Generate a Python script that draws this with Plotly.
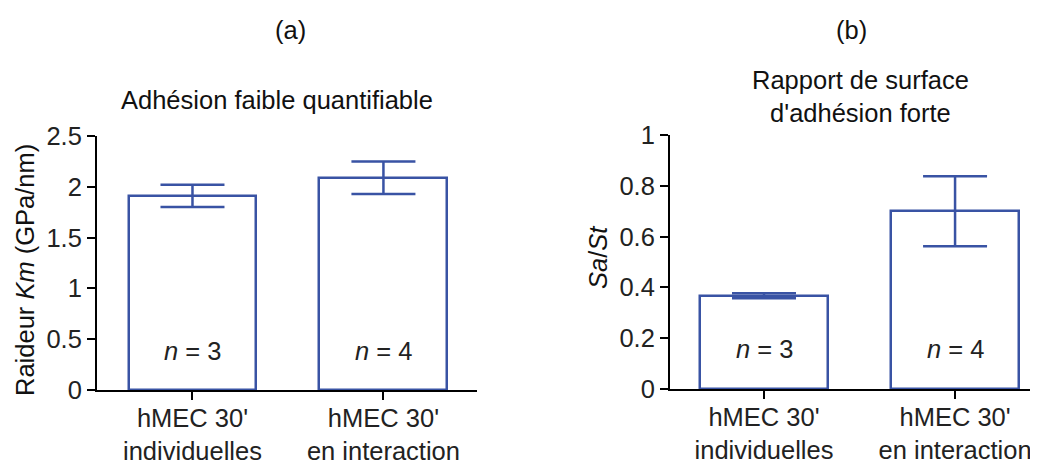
import plotly.graph_objects as go

# data
categories = ["hMEC 30'<br>individuelles", "hMEC 30'<br>en interaction"]
raideur = [1.91, 2.09]
raideur_err = [0.11, 0.16]
surface = [0.367, 0.70]
surface_err = [0.01, 0.138]
n_labels = ["<i>n</i> = 3", "<i>n</i> = 4"]

blue = '#3953a4'
font_family = "Liberation Sans, Arial, sans-serif"
fs = 25.5
W, H = 1038, 468
OFF = 8  # page body margin


def px_x(p):
    return (p - OFF) / W


def px_y(p):
    return 1 - (p - OFF) / H


fig = go.Figure()

fig.add_trace(go.Bar(
    x=[0, 1], y=raideur, width=0.67,
    marker=dict(color='white', line=dict(color=blue, width=2.5)),
    error_y=dict(type='data', array=raideur_err, color=blue, thickness=2.5, width=32),
    xaxis='x', yaxis='y', showlegend=False
))
fig.add_trace(go.Bar(
    x=[0, 1], y=surface, width=0.67,
    marker=dict(color='white', line=dict(color=blue, width=2.5)),
    error_y=dict(type='data', array=surface_err, color=blue, thickness=2.5, width=32),
    xaxis='x2', yaxis='y2', showlegend=False
))

axis_style = dict(showline=True, linecolor='black', linewidth=2, ticks='outside',
                  ticklen=8, tickwidth=2, tickcolor='black', showgrid=False,
                  zeroline=False, automargin=False, tickfont=dict(size=fs, color='#222'))

fig.update_layout(
    template='none',
    width=W, height=H,
    margin=dict(l=0, r=0, t=0, b=0, autoexpand=False),
    plot_bgcolor='white', paper_bgcolor='white',
    font=dict(family=font_family, color='#111', size=fs),
    bargap=0,
    xaxis=dict(domain=[px_x(97), px_x(477)], range=[-0.5, 1.49], tickvals=[0, 1],
               ticktext=categories, anchor='y', ticklabelstandoff=-4, **axis_style),
    yaxis=dict(domain=[px_y(390), px_y(136)], range=[0, 2.5], dtick=0.5,
               anchor='x', **axis_style),
    xaxis2=dict(domain=[px_x(670), 1.0], range=[-0.492, 1.476], tickvals=[0, 1],
                ticktext=categories, anchor='y2', ticklabelstandoff=-4, **axis_style),
    yaxis2=dict(domain=[px_y(389), px_y(135)], range=[0, 1], dtick=0.2,
                anchor='x2', **axis_style),
)

ann = []
# panel letters and titles
ann.append(dict(text='(a)', x=px_x(290), y=px_y(30)))
ann.append(dict(text='Adhésion faible quantifiable', x=px_x(277), y=px_y(100)))
ann.append(dict(text='(b)', x=px_x(851), y=px_y(30)))
ann.append(dict(text="Rapport de surface<br>d'adhésion forte", x=px_x(860), y=px_y(96)))
# y axis titles
ann.append(dict(text='Raideur <i>Km</i> (GPa/nm)', x=px_x(25), y=px_y(270), textangle=-90))
ann.append(dict(text='<i>S</i><i>a</i>/<i>S</i><i>t</i>', x=px_x(598), y=px_y(258), textangle=-90))
for a in ann:
    a.update(xref='paper', yref='paper', showarrow=False, xanchor='center', yanchor='middle',
             font=dict(size=fs, color='#111'))

# n labels inside bars
for i, t in enumerate(n_labels):
    ann.append(dict(text=t, x=i, y=px_y(367), xref='x', yref='paper', showarrow=False,
                    font=dict(size=fs, color='#222')))
    ann.append(dict(text=t, x=i, y=px_y(365), xref='x2', yref='paper', showarrow=False,
                    font=dict(size=fs, color='#222')))

fig.update_layout(annotations=ann)
fig.write_html("out.html")
